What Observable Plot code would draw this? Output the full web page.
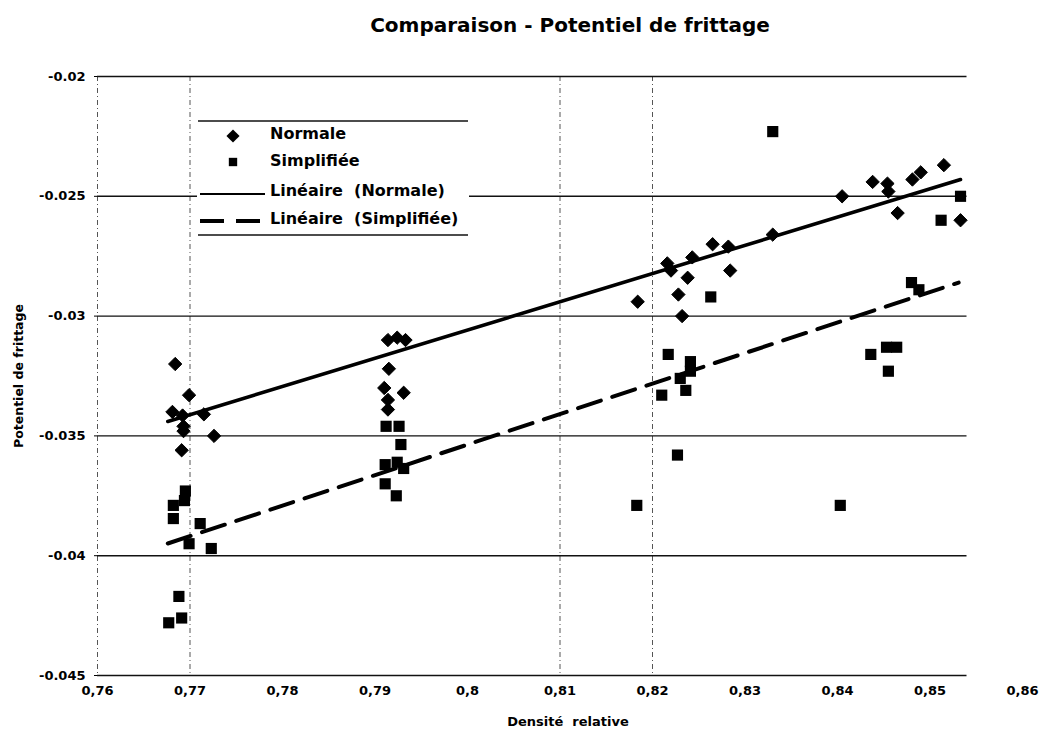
<!DOCTYPE html>
<html><head><meta charset="utf-8">
<script src="https://cdn.jsdelivr.net/npm/d3@7"></script>
<script src="https://cdn.jsdelivr.net/npm/@observablehq/plot@0.6"></script>
<style>
body{margin:0;background:#fff;}
#chart{position:relative;width:1042px;height:733px;overflow:hidden;}
</style></head><body><div id="chart"></div>
<script>
// ---- data ----
const normaleX = [0.7684,0.7699,0.7681,0.7692,0.7693,0.7693,0.7715,0.7726,0.7691,
  0.7914,0.7924,0.7933,0.7915,0.7910,0.7931,0.7914,0.7914,
  0.8216,0.8220,0.8243,0.8265,0.8282,0.8330,0.8284,0.8238,0.8228,0.8184,0.8232,
  0.8405,0.8438,0.8454,0.8455,0.8465,0.8481,0.8490,0.8515,0.8533];
const normaleY = [-0.0320,-0.0333,-0.0340,-0.03415,-0.0346,-0.0348,-0.0341,-0.0350,-0.0356,
  -0.0310,-0.0309,-0.0310,-0.0322,-0.0330,-0.0332,-0.0335,-0.0339,
  -0.0278,-0.0281,-0.02755,-0.0270,-0.0271,-0.0266,-0.0281,-0.0284,-0.0291,-0.0294,-0.0300,
  -0.0250,-0.0244,-0.02447,-0.0248,-0.0257,-0.0243,-0.0240,-0.0237,-0.0260];
const simplifieeX = [0.7695,0.7694,0.7682,0.7682,0.7711,0.7699,0.7723,0.7688,0.7691,0.7677,
  0.7912,0.7926,0.7928,0.7911,0.7924,0.7931,0.7911,0.7923,
  0.8330,0.8263,0.8217,0.8241,0.8241,0.8230,0.8236,0.8210,0.8227,0.8183,
  0.8533,0.8512,0.8480,0.8488,0.8453,0.8464,0.8436,0.8455,0.8403];
const simplifieeY = [-0.0373,-0.0377,-0.0379,-0.03845,-0.03866,-0.0395,-0.0397,-0.0417,-0.0426,-0.0428,
  -0.0346,-0.0346,-0.03536,-0.0362,-0.0361,-0.03636,-0.0370,-0.0375,
  -0.0223,-0.0292,-0.0316,-0.0319,-0.0323,-0.0326,-0.0331,-0.0333,-0.0358,-0.0379,
  -0.0250,-0.0260,-0.0286,-0.0289,-0.0313,-0.0313,-0.0316,-0.0323,-0.0379];
const trendNormaleX = [0.7676, 0.8533];
const trendNormaleY = [-0.0344, -0.0243];
const trendSimplifieeX = [0.7676, 0.8531];
const trendSimplifieeY = [-0.03949, -0.0286];
const xTicks = [0.76,0.77,0.78,0.79,0.80,0.81,0.82,0.83,0.84,0.85,0.86];
const yTicks = [-0.045,-0.04,-0.035,-0.03,-0.025,-0.02];
const verticalGuides = [0.76, 0.77, 0.81, 0.82];
const legendLabels = ["Normale","Simplifiée","Linéaire  (Normale)","Linéaire  (Simplifiée)"];
const title = "Comparaison - Potentiel de frittage";
const xLabel = "Densité  relative";
const yLabel = "Potentiel de frittage";

// ---- build tables ----
const normale = normaleX.map((x,i)=>({x, y: normaleY[i]}));
const simplifiee = simplifieeX.map((x,i)=>({x, y: simplifieeY[i]}));
const trendN = trendNormaleX.map((x,i)=>({x, y: trendNormaleY[i]}));
const trendS = trendSimplifieeX.map((x,i)=>({x, y: trendSimplifieeY[i]}));
const FONT = "'DejaVu Sans', sans-serif";

const plot = Plot.plot({
  width: 1042, height: 733,
  marginLeft: 97, marginRight: 20, marginTop: 76, marginBottom: 58,
  style: {fontFamily: FONT, fontWeight: "bold", fontSize: "13px", background: "white", color: "black"},
  x: {domain: [0.76, 0.86], label: null},
  y: {domain: [-0.045, -0.02], label: null},
  marks: [
    Plot.ruleX(verticalGuides, {stroke: "#555", strokeWidth: 1, strokeDasharray: "5,3,1,3"}),
    Plot.ruleY(yTicks, {x1: 0.76, x2: 0.854, stroke: "#111", strokeWidth: 1.4}),
    Plot.line(trendN, {x: "x", y: "y", stroke: "black", strokeWidth: 3.6}),
    Plot.line(trendS, {x: "x", y: "y", stroke: "black", strokeWidth: 4, strokeDasharray: "24,12"}),
    Plot.dot(normale, {x: "x", y: "y", symbol: "diamond2", r: 6, fill: "black", stroke: "black", strokeWidth: 1}),
    Plot.dot(simplifiee, {x: "x", y: "y", symbol: "square", r: 6.3, fill: "black"}),
    Plot.axisX({ticks: xTicks, tickSize: 0, tickPadding: 10, tickFormat: d => String(+d.toFixed(2)).replace(".", ","), fontSize: 13, fontWeight: "bold"}),
    Plot.axisY({ticks: yTicks, tickSize: 3, tickPadding: 9, tickFormat: d => String(+d.toFixed(3)), fontSize: 13, fontWeight: "bold"}),
    Plot.text([title], {frameAnchor: "top", textAnchor: "middle", dx: 10, dy: -59, fontSize: 20, fontWeight: "bold"}),
    Plot.text([xLabel], {frameAnchor: "bottom", textAnchor: "middle", dx: 8, dy: 50, fontSize: 13, fontWeight: "bold"}),
    Plot.text([yLabel], {frameAnchor: "left", textAnchor: "middle", lineAnchor: "middle", rotate: -90, dx: -79, fontSize: 12.5, fontWeight: "bold"})
  ]
});
document.getElementById("chart").appendChild(plot);

// ---- legend overlay ----
const leg = d3.select("#chart").append("svg")
  .attr("width", 272).attr("height", 120)
  .style("position", "absolute").style("left", "197px").style("top", "119px")
  .style("font-family", FONT).style("font-weight", "bold");
leg.append("rect").attr("x", 0).attr("y", 1).attr("width", 272).attr("height", 116).attr("fill", "white");
leg.append("line").attr("x1", 1).attr("x2", 271).attr("y1", 2).attr("y2", 2).attr("stroke", "#111").attr("stroke-width", 1.5);
leg.append("line").attr("x1", 1).attr("x2", 271).attr("y1", 116).attr("y2", 116).attr("stroke", "#111").attr("stroke-width", 1.5);
const rowY = [17, 43, 75, 102];
const textY = [14, 41, 71, 99];
leg.append("path").attr("transform", `translate(36,${rowY[0]})`).attr("d", d3.symbol(d3.symbolDiamond2, 110)()).attr("fill", "black");
leg.append("path").attr("transform", `translate(36,${rowY[1]})`).attr("d", d3.symbol(d3.symbolSquare, 70)()).attr("fill", "black");
leg.append("line").attr("x1", 3).attr("x2", 68).attr("y1", rowY[2]).attr("y2", rowY[2]).attr("stroke", "black").attr("stroke-width", 2);
leg.append("line").attr("x1", 3).attr("x2", 68).attr("y1", rowY[3]).attr("y2", rowY[3]).attr("stroke", "black").attr("stroke-width", 4).attr("stroke-dasharray", "24,12");
leg.selectAll("text.l").data(legendLabels).join("text")
  .attr("x", 73).attr("y", (d,i) => textY[i]).attr("dominant-baseline", "central")
  .attr("font-size", 16).attr("xml:space", "preserve").style("white-space", "pre").text(d => d);
</script></body></html>
